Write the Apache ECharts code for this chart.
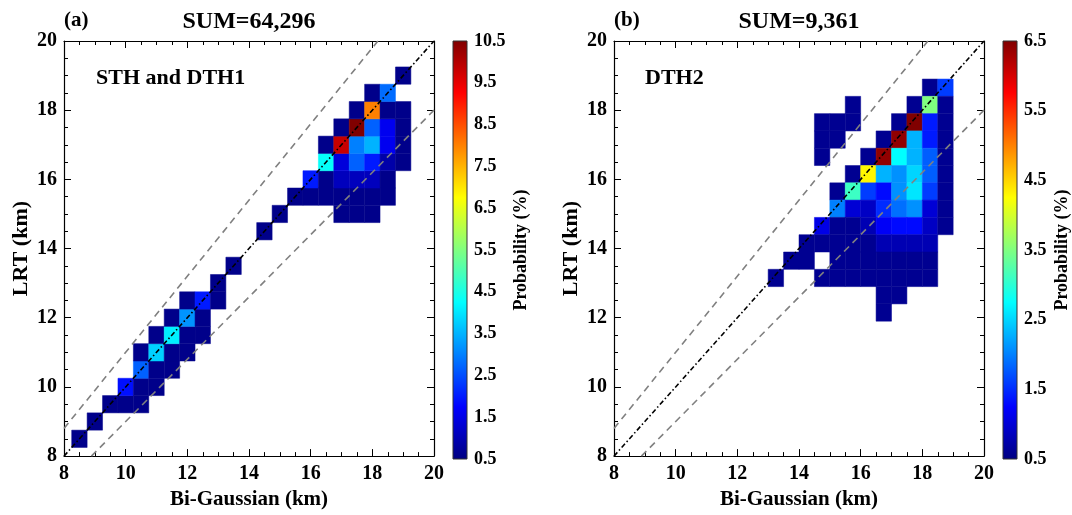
<!DOCTYPE html>
<html>
<head>
<meta charset="utf-8">
<script src="https://cdn.jsdelivr.net/npm/echarts@6/dist/echarts.min.js"></script>
<style>
  html, body { margin: 0; padding: 0; background: #fff; }
  #main { width: 1072px; height: 515px; }
</style>
</head>
<body>
<div id="main"></div>
<script>
// each cell: [x bin centre, y bin centre, probability (%)], bins 0.5 km wide
var binWidth = 0.5;

var cellsA = [
  [8.5, 8.5, 0.6], [9, 9, 0.6],
  [9.5, 9.5, 0.6], [10, 9.5, 0.6], [10.5, 9.5, 0.6],
  [10, 10, 1.9], [10.5, 10, 0.6], [11, 10, 0.6],
  [10.5, 10.5, 2.7], [11, 10.5, 0.6], [11.5, 10.5, 0.6],
  [10.5, 11, 0.6], [11, 11, 3.8], [11.5, 11, 0.6], [12, 11, 0.6],
  [11, 11.5, 0.6], [11.5, 11.5, 4.1], [12, 11.5, 0.6], [12.5, 11.5, 0.6],
  [11.5, 12, 0.6], [12, 12, 3.2], [12.5, 12, 0.6],
  [12, 12.5, 0.6], [12.5, 12.5, 2.0], [13, 12.5, 0.6],
  [13, 13, 0.6], [13.5, 13.5, 0.6], [14.5, 14.5, 0.6],
  [15, 15, 0.6], [17, 15, 0.6], [17.5, 15, 0.6], [18, 15, 0.6],
  [15.5, 15.5, 0.6], [16, 15.5, 0.6], [16.5, 15.5, 0.6], [17, 15.5, 0.6],
  [17.5, 15.5, 0.6], [18, 15.5, 0.6], [18.5, 15.5, 0.6],
  [16, 16, 2.0], [16.5, 16, 0.6], [17, 16, 1.1], [17.5, 16, 1.1], [18, 16, 1.1], [18.5, 16, 0.6],
  [16.5, 16.5, 4.3], [17, 16.5, 1.4], [17.5, 16.5, 2.7], [18, 16.5, 2.0], [18.5, 16.5, 0.9], [19, 16.5, 0.6],
  [16.5, 17, 0.6], [17, 17, 9.8], [17.5, 17, 3.0], [18, 17, 3.5], [18.5, 17, 1.6], [19, 17, 0.6],
  [17, 17.5, 0.6], [17.5, 17.5, 10.5], [18, 17.5, 2.7], [18.5, 17.5, 1.6], [19, 17.5, 0.6],
  [17.5, 18, 0.6], [18, 18, 8.0], [18.5, 18, 0.6], [19, 18, 0.6],
  [18, 18.5, 0.6], [18.5, 18.5, 2.8],
  [19, 19, 0.6]
];

var cellsB = [
  [18.25, 18.65, 0.6], [18.75, 18.65, 1.6],
  [15.75, 18.15, 0.6], [17.75, 18.15, 0.6], [18.25, 18.15, 3.5], [18.75, 18.15, 0.6],
  [14.75, 17.65, 0.6], [15.25, 17.65, 0.6], [15.75, 17.65, 0.6], [17.25, 17.65, 0.6],
  [17.75, 17.65, 6.5], [18.25, 17.65, 1.4], [18.75, 17.65, 0.6],
  [14.75, 17.15, 0.6], [15.25, 17.15, 0.6], [16.75, 17.15, 0.6], [17.25, 17.15, 6.4],
  [17.75, 17.15, 2.3], [18.25, 17.15, 1.4], [18.75, 17.15, 0.6],
  [14.75, 16.65, 0.6], [16.25, 16.65, 0.6], [16.75, 16.65, 6.4], [17.25, 16.65, 2.75],
  [17.75, 16.65, 2.3], [18.25, 16.65, 1.8], [18.75, 16.65, 0.6],
  [15.75, 16.15, 0.6], [16.25, 16.15, 4.3], [16.75, 16.15, 2.3], [17.25, 16.15, 2.1],
  [17.75, 16.15, 2.5], [18.25, 16.15, 1.8], [18.75, 16.15, 0.6],
  [15.25, 15.65, 0.6], [15.75, 15.65, 3.1], [16.25, 15.65, 1.6], [16.75, 15.65, 1.3],
  [17.25, 15.65, 2.1], [17.75, 15.65, 2.6], [18.25, 15.65, 1.6], [18.75, 15.65, 0.6],
  [15.25, 15.15, 2.0], [15.75, 15.15, 1.0], [16.25, 15.15, 0.9], [16.75, 15.15, 1.5],
  [17.25, 15.15, 1.9], [17.75, 15.15, 2.1], [18.25, 15.15, 1.0], [18.75, 15.15, 0.6],
  [14.75, 14.65, 1.1], [15.25, 14.65, 0.6], [15.75, 14.65, 0.6], [16.25, 14.65, 0.8],
  [16.75, 14.65, 1.2], [17.25, 14.65, 1.3], [17.75, 14.65, 1.3], [18.25, 14.65, 0.9], [18.75, 14.65, 0.6],
  [14.25, 14.15, 0.6], [14.75, 14.15, 0.6], [15.25, 14.15, 0.6], [15.75, 14.15, 0.6], [16.25, 14.15, 0.6],
  [16.75, 14.15, 0.8], [17.25, 14.15, 0.8], [17.75, 14.15, 0.8], [18.25, 14.15, 0.8],
  [13.75, 13.65, 0.6], [14.25, 13.65, 0.6], [15.25, 13.65, 0.6], [15.75, 13.65, 0.6], [16.25, 13.65, 0.6],
  [16.75, 13.65, 0.6], [17.25, 13.65, 0.6], [17.75, 13.65, 0.6], [18.25, 13.65, 0.6],
  [13.25, 13.15, 0.6], [14.75, 13.15, 0.6], [15.25, 13.15, 0.6], [15.75, 13.15, 0.6], [16.25, 13.15, 0.6],
  [16.75, 13.15, 0.6], [17.25, 13.15, 0.6], [17.75, 13.15, 0.6], [18.25, 13.15, 0.6],
  [16.75, 12.65, 0.6], [17.25, 12.65, 0.6],
  [16.75, 12.15, 0.6]
];

var sumA = 'SUM=64,296';
var sumB = 'SUM=9,361';
var labelA = 'STH and DTH1';
var labelB = 'DTH2';

// reference lines: 1:1 and +/-10 %
var oneToOne = [[8, 8], [20, 20]];
var plus10 = [[8, 8.8], [18.18, 20]];
var minus10 = [[8.89, 8], [20, 18]];

var rangeA = [0.5, 10.5];
var rangeB = [0.5, 6.5];

var jet = ['#000080', '#0000ff', '#0080ff', '#00ffff', '#80ff80', '#ffff00', '#ff8000', '#ff0000', '#800000'];

var serif = '"Liberation Serif", "Times New Roman", serif';

var chart = echarts.init(document.getElementById('main'));

function cellItem(params, api) {
  var x = api.value(0), y = api.value(1), h = binWidth / 2;
  var a = api.coord([x - h, y + h]);
  var b = api.coord([x + h, y - h]);
  return {
    type: 'rect',
    shape: {x: a[0], y: a[1], width: b[0] - a[0], height: b[1] - a[1]},
    style: {fill: api.visual('color'), stroke: api.visual('color'), lineWidth: 0.5}
  };
}

function barItem(params, api) {
  var a = api.coord([0, api.value(1)]);
  var b = api.coord([1, api.value(0)]);
  var stops = jet.map(function (c, i) {
    return {offset: i / (jet.length - 1), color: c};
  });
  return {
    type: 'rect',
    shape: {x: a[0], y: a[1], width: b[0] - a[0], height: b[1] - a[1]},
    style: {
      fill: new echarts.graphic.LinearGradient(0, 1, 0, 0, stops),
      stroke: '#333',
      lineWidth: 1
    }
  };
}

function mainX(grid, top) {
  return {
    type: 'value', gridIndex: grid, min: 8, max: 20, interval: 2,
    position: top ? 'top' : 'bottom',
    name: top ? '' : 'Bi-Gaussian (km)',
    nameLocation: 'middle', nameGap: 27,
    nameTextStyle: {fontFamily: serif, fontWeight: 'bold', fontSize: 21, color: '#000'},
    axisLine: {onZero: false, lineStyle: {color: '#000', width: 1.2}},
    axisTick: {inside: true, length: 7, lineStyle: {color: '#000'}},
    minorTick: {show: true, splitNumber: 4, length: 4, lineStyle: {color: '#000'}},
    splitLine: {show: false},
    axisLabel: {show: !top, margin: 8, fontFamily: serif, fontWeight: 'bold', fontSize: 20, color: '#000'}
  };
}

function mainY(grid, right) {
  return {
    type: 'value', gridIndex: grid, min: 8, max: 20, interval: 2,
    position: right ? 'right' : 'left',
    name: right ? '' : 'LRT (km)',
    nameLocation: 'middle', nameGap: 32, nameRotate: 90,
    nameTextStyle: {fontFamily: serif, fontWeight: 'bold', fontSize: 22, color: '#000'},
    axisLine: {onZero: false, lineStyle: {color: '#000', width: 1.2}},
    axisTick: {inside: true, length: 7, lineStyle: {color: '#000'}},
    minorTick: {show: true, splitNumber: 4, length: 4, lineStyle: {color: '#000'}},
    splitLine: {show: false},
    axisLabel: {show: !right, margin: 7, fontFamily: serif, fontWeight: 'bold', fontSize: 20, color: '#000'}
  };
}

function barX(grid) {
  return {type: 'value', gridIndex: grid, min: 0, max: 1, show: false};
}

function barY(grid, range, gap) {
  return {
    type: 'value', gridIndex: grid, min: range[0], max: range[1], interval: 1,
    position: 'right',
    name: 'Probability (%)', nameLocation: 'middle', nameGap: gap, nameRotate: 90,
    nameTextStyle: {fontFamily: serif, fontWeight: 'bold', fontSize: 18, color: '#000'},
    axisLine: {show: false}, axisTick: {show: false}, splitLine: {show: false},
    axisLabel: {margin: 7, fontFamily: serif, fontWeight: 'bold', fontSize: 18, color: '#000',
      formatter: function (v) { return v.toFixed(1); }}
  };
}

function lines(xi, yi) {
  var base = {type: 'line', xAxisIndex: xi, yAxisIndex: yi, symbol: 'none', silent: true, z: 5};
  return [
    Object.assign({}, base, {data: plus10, lineStyle: {color: '#808080', width: 1.6, type: [7, 5]}}),
    Object.assign({}, base, {data: minus10, lineStyle: {color: '#808080', width: 1.6, type: [7, 5]}}),
    Object.assign({}, base, {data: oneToOne, lineStyle: {color: '#000', width: 1.6, type: [5, 2.5, 1.5, 2.5]}})
  ];
}

function txt(x, y, text, size, align) {
  return {
    type: 'text', x: x, y: y, z: 10,
    style: {
      text: text, fill: '#000',
      font: 'bold ' + size + 'px ' + serif,
      align: align, verticalAlign: 'middle',
      textAlign: align, textVerticalAlign: 'middle'
    }
  };
}

chart.setOption({
  animation: false,
  grid: [
    {left: 64, top: 41, width: 370, height: 418},
    {left: 614, top: 41, width: 370, height: 418},
    {left: 453, top: 41, width: 14, height: 418},
    {left: 1003, top: 41, width: 14, height: 418}
  ],
  xAxis: [mainX(0, false), mainX(0, true), mainX(1, false), mainX(1, true), barX(2), barX(3)],
  yAxis: [mainY(0, false), mainY(0, true), mainY(1, false), mainY(1, true),
    barY(2, rangeA, 45), barY(3, rangeB, 36)],
  visualMap: [
    {type: 'continuous', show: false, min: rangeA[0], max: rangeA[1], dimension: 2,
      seriesIndex: 0, inRange: {color: jet}},
    {type: 'continuous', show: false, min: rangeB[0], max: rangeB[1], dimension: 2,
      seriesIndex: 1, inRange: {color: jet}}
  ],
  graphic: [
    txt(64, 21, '(a)', 21, 'left'),
    txt(249, 22, sumA, 24, 'center'),
    txt(96, 78, labelA, 22, 'left'),
    txt(614, 21, '(b)', 21, 'left'),
    txt(799, 22, sumB, 24, 'center'),
    txt(645, 78, labelB, 22, 'left')
  ],
  series: [
    {type: 'custom', xAxisIndex: 0, yAxisIndex: 0, data: cellsA, renderItem: cellItem, silent: true, z: 2},
    {type: 'custom', xAxisIndex: 2, yAxisIndex: 2, data: cellsB, renderItem: cellItem, silent: true, z: 2},
    {type: 'custom', xAxisIndex: 4, yAxisIndex: 4, data: [rangeA], renderItem: barItem, silent: true},
    {type: 'custom', xAxisIndex: 5, yAxisIndex: 5, data: [rangeB], renderItem: barItem, silent: true}
  ].concat(lines(0, 0), lines(2, 2))
});
</script>
</body>
</html>
